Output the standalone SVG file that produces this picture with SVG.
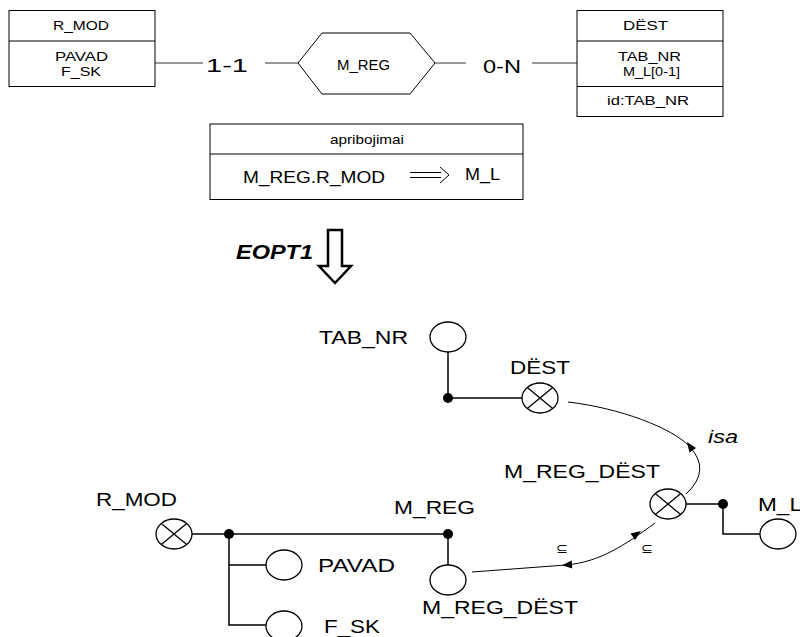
<svg xmlns="http://www.w3.org/2000/svg" xmlns:xlink="http://www.w3.org/1999/xlink" width="800" height="637" viewBox="0 0 800 637">
<style>
text{font-family:"Liberation Sans",Arial,sans-serif;fill:#000}
.s13{font-size:13px}
.s14{font-size:14px}
.s18{font-size:17px}
.s19{font-size:19px}
.box{fill:#fff;stroke:#000;stroke-width:1}
.ln{fill:none;stroke:#333;stroke-width:1}
.ln2{fill:none;stroke:#000;stroke-width:1.5}
.cv{fill:none;stroke:#000;stroke-width:1}
.ov{fill:#fff;stroke:#000;stroke-width:1.3}
.x{stroke:#000;stroke-width:1.3}
.dot{fill:#000}
.sym{font-family:"DejaVu Sans",sans-serif;font-size:13px}
</style>
<defs>
<path id="ah" d="M0,0 L-10,-4 L-10,4 Z" fill="#000"/>
<g id="xo"><ellipse class="ov" cx="0" cy="0" rx="18" ry="15"/><line class="x" x1="-12.7" y1="-10.6" x2="12.7" y2="10.6"/><line class="x" x1="-12.7" y1="10.6" x2="12.7" y2="-10.6"/></g>
<ellipse id="oo" class="ov" cx="0" cy="0" rx="18" ry="15"/>
</defs>
<rect width="800" height="637" fill="#fff"/>

<g id="connectors">
<line class="ln" x1="155" y1="63" x2="203" y2="63"/>
<line class="ln" x1="265" y1="63" x2="298" y2="63"/>
<line class="ln" x1="435" y1="63" x2="466" y2="63"/>
<line class="ln" x1="532" y1="63" x2="577" y2="63"/>
<path d="M328,230 L342,230 L342,266 L351,266 L335,283 L319,266 L328,266 Z" fill="#fff" stroke="#000" stroke-width="2.5" stroke-linejoin="miter"/>
<line class="ln2" x1="448" y1="352" x2="448" y2="398"/>
<line class="ln2" x1="448" y1="398" x2="522" y2="398"/>
<line class="ln2" x1="192" y1="534" x2="448" y2="534"/>
<polyline class="ln2" points="229,534 229,625 266,625"/>
<line class="ln2" x1="229" y1="565" x2="266" y2="565"/>
<line class="ln2" x1="448" y1="534" x2="448" y2="565"/>
<line class="ln2" x1="686" y1="504" x2="723" y2="504"/>
<polyline class="ln2" points="723,504 723,534 760,534"/>
<circle class="dot" cx="448" cy="398" r="5"/>
<circle class="dot" cx="229" cy="534" r="5"/>
<circle class="dot" cx="448" cy="534" r="5"/>
<circle class="dot" cx="723" cy="504" r="5"/>
<path class="cv" d="M686,494 Q712,470 689,446 C672,428 620,408 568,402"/>
<use xlink:href="#ah" transform="translate(687,442) rotate(-125)"/>
<path class="cv" d="M472,572 L566,565 C600,562 625,545 655,523"/>
<use xlink:href="#ah" transform="translate(562,565.3) rotate(176)"/>
<use xlink:href="#ah" transform="translate(641,531) rotate(-35)"/>
<text class="sym" x="556" y="553" textLength="12" lengthAdjust="spacingAndGlyphs">⊆</text>
<text class="sym" x="641" y="553" textLength="12" lengthAdjust="spacingAndGlyphs">⊆</text>
<text class="s19" x="708" y="443" font-style="italic" textLength="30" lengthAdjust="spacingAndGlyphs">isa</text>
</g>

<g id="er-rmod">
<rect class="box" x="9" y="10.5" width="146" height="76"/>
<line class="box" x1="9" y1="41" x2="155" y2="41"/>
<text class="s13" x="53" y="30" textLength="56" lengthAdjust="spacingAndGlyphs">R_MOD</text>
<text class="s13" x="55" y="61" textLength="53" lengthAdjust="spacingAndGlyphs">PAVAD</text>
<text class="s13" x="61" y="75.5" textLength="40" lengthAdjust="spacingAndGlyphs">F_SK</text>
</g>

<g id="er-card1">
<text class="s19" x="206" y="71.5" textLength="42" lengthAdjust="spacingAndGlyphs">1-1</text>
</g>

<g id="er-mreg">
<polygon class="box" points="298,63 322,33 410,33 435,63 410,94 322,94"/>
<text class="s14" x="337" y="70" textLength="53" lengthAdjust="spacingAndGlyphs">M_REG</text>
</g>

<g id="er-card2">
<text class="s19" x="483" y="72.5" textLength="38" lengthAdjust="spacingAndGlyphs">0-N</text>
</g>

<g id="er-dest">
<rect class="box" x="577" y="10.5" width="146" height="106"/>
<line class="box" x1="577" y1="41" x2="723" y2="41"/>
<line class="box" x1="577" y1="86.5" x2="723" y2="86.5"/>
<text class="s13" x="623" y="30" textLength="45" lengthAdjust="spacingAndGlyphs">DËST</text>
<text class="s13" x="618" y="61" textLength="63" lengthAdjust="spacingAndGlyphs">TAB_NR</text>
<text class="s13" x="623" y="75.5" textLength="57" lengthAdjust="spacingAndGlyphs">M_L[0-1]</text>
<text class="s13" x="607" y="105" textLength="82" lengthAdjust="spacingAndGlyphs">id:TAB_NR</text>
</g>

<g id="constraint">
<rect class="box" x="210" y="124" width="313" height="75.5"/>
<line class="box" x1="210" y1="154" x2="523" y2="154"/>
<text class="s13" x="330" y="143.5" textLength="74" lengthAdjust="spacingAndGlyphs">apribojimai</text>
<text class="s18" x="243" y="183" textLength="142" lengthAdjust="spacingAndGlyphs">M_REG.R_MOD</text>
<path d="M410,172.5 L441,172.5 M410,177.5 L441,177.5 M440,167 L449,175 L440,183" fill="none" stroke="#000" stroke-width="1"/>
<text class="s18" x="465" y="180" textLength="35" lengthAdjust="spacingAndGlyphs">M_L</text>
</g>

<g id="eopt1">
<text x="236" y="259" font-size="21" font-weight="bold" font-style="italic" textLength="77" lengthAdjust="spacingAndGlyphs">EOPT1</text>
</g>

<g id="n-tabnr">
<use xlink:href="#oo" transform="translate(448,337)"/>
<text class="s19" x="319" y="344" textLength="89" lengthAdjust="spacingAndGlyphs">TAB_NR</text>
</g>

<g id="n-dest">
<use xlink:href="#xo" transform="translate(540,398)"/>
<text class="s19" x="510" y="374" textLength="60" lengthAdjust="spacingAndGlyphs">DËST</text>
</g>

<g id="n-mregdest-top">
<use xlink:href="#xo" transform="translate(668,504)"/>
<text class="s19" x="504" y="478" textLength="156" lengthAdjust="spacingAndGlyphs">M_REG_DËST</text>
</g>

<g id="n-ml">
<use xlink:href="#oo" transform="translate(778,534)"/>
<text class="s19" x="758" y="511" textLength="44" lengthAdjust="spacingAndGlyphs">M_L</text>
</g>

<g id="n-rmod">
<use xlink:href="#xo" transform="translate(174,534)"/>
<text class="s19" x="96" y="506" textLength="81" lengthAdjust="spacingAndGlyphs">R_MOD</text>
</g>

<g id="n-mreg">
<text class="s19" x="394" y="514" textLength="81" lengthAdjust="spacingAndGlyphs">M_REG</text>
</g>

<g id="n-pavad">
<use xlink:href="#oo" transform="translate(284,565)"/>
<text class="s19" x="318" y="572" textLength="77" lengthAdjust="spacingAndGlyphs">PAVAD</text>
</g>

<g id="n-fsk">
<use xlink:href="#oo" transform="translate(284,626)"/>
<text class="s19" x="324" y="633" textLength="56" lengthAdjust="spacingAndGlyphs">F_SK</text>
</g>

<g id="n-mregdest-bottom">
<use xlink:href="#oo" transform="translate(448,580)"/>
<text class="s19" x="422" y="614" textLength="156" lengthAdjust="spacingAndGlyphs">M_REG_DËST</text>
</g>
</svg>
